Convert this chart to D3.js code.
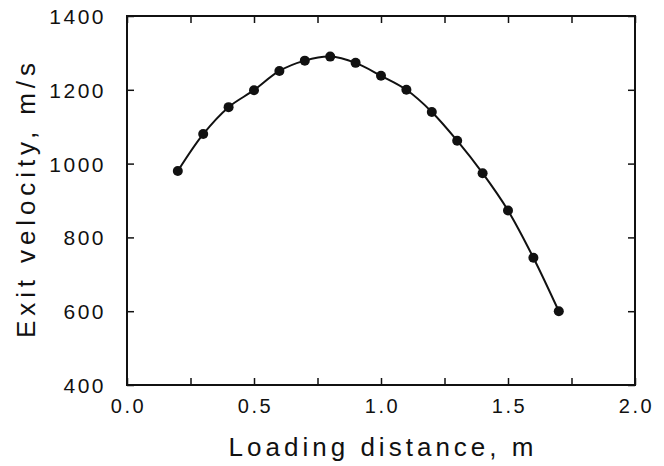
<!DOCTYPE html>
<html>
<head>
<meta charset="utf-8">
<script src="https://cdn.jsdelivr.net/npm/d3@7"></script>
<style>
    body { margin: 0; background: #fff; }
    svg text { font-family: 'Liberation Sans', Arial, sans-serif; fill: #111; }
</style>
</head>
<body>
<div class="chart-exit"></div>
<script>
// loading distance (m) and exit velocity (m/s)
let loadingDistance = [0.2, 0.3, 0.4, 0.5, 0.6, 0.7, 0.8, 0.9, 1.0, 1.1, 1.2, 1.3, 1.4, 1.5, 1.6, 1.7];
let exitVelocity = [980, 1080, 1153, 1199, 1251, 1279, 1290, 1273, 1238, 1200, 1140, 1062, 974, 873, 745, 600];

let xTicks = [0, 0.25, 0.5, 0.75, 1, 1.25, 1.5, 1.75, 2];
let xTickLabels = ['0.0', '0.5', '1.0', '1.5', '2.0'];
let yTicks = [400, 600, 800, 1000, 1200, 1400];
let xTitle = 'Loading distance, m';
let yTitle = 'Exit velocity, m/s';

let width = 664, height = 466;
let margin = {top: 16, right: 29, bottom: 81, left: 127};
let innerW = width - margin.left - margin.right,
    innerH = height - margin.top - margin.bottom;

let svg = d3.select('.chart-exit').append('svg')
    .attr('width', width)
    .attr('height', height);

let chartLayer = svg.append('g')
    .attr('transform', 'translate(' + margin.left + ',' + margin.top + ')');

let x = d3.scaleLinear().domain([0, 2]).range([0, innerW]);
let y = d3.scaleLinear().domain([400, 1400]).range([innerH, 0]);

// inward ticks on all four sides
let tickLen = 7;
function styleAxis(g) {
    g.select('.domain').remove();
    g.selectAll('.tick line').attr('stroke', '#111').attr('stroke-width', 1.5);
}

let xBottom = chartLayer.append('g')
    .attr('transform', 'translate(0,' + innerH + ')')
    .call(d3.axisBottom(x).tickValues(xTicks).tickSizeInner(-tickLen).tickSizeOuter(0)
        .tickPadding(tickLen + 7)
        .tickFormat(function(d) {
            let i = xTickLabels.indexOf(d.toFixed(1));
            return (d * 2) % 1 === 0 && i >= 0 ? xTickLabels[i] : '';
        }));
styleAxis(xBottom);
xBottom.selectAll('text').attr('font-size', 20).attr('letter-spacing', 2.5).attr('dx', 1);

let xTop = chartLayer.append('g')
    .call(d3.axisTop(x).tickValues(xTicks).tickSizeInner(-tickLen).tickSizeOuter(0).tickFormat(''));
styleAxis(xTop);

let yLeft = chartLayer.append('g')
    .call(d3.axisLeft(y).tickValues(yTicks).tickSizeInner(-tickLen).tickSizeOuter(0)
        .tickPadding(tickLen + 14).tickFormat(d3.format('d')));
styleAxis(yLeft);
yLeft.selectAll('text').attr('font-size', 21).attr('letter-spacing', 2.5).attr('dy', '0.36em');

let yRight = chartLayer.append('g')
    .attr('transform', 'translate(' + innerW + ',0)')
    .call(d3.axisRight(y).tickValues(yTicks).tickSizeInner(-tickLen).tickSizeOuter(0).tickFormat(''));
styleAxis(yRight);

// frame
chartLayer.append('rect')
    .attr('width', innerW)
    .attr('height', innerH)
    .attr('fill', 'none')
    .attr('stroke', '#111')
    .attr('stroke-width', 2);

// data
let chartData = loadingDistance.map(function(d, i) { return {x: d, y: exitVelocity[i]}; });

let line = d3.line()
    .x(function(d) { return x(d.x); })
    .y(function(d) { return y(d.y); })
    .curve(d3.curveCatmullRom);

chartLayer.append('path')
    .datum(chartData)
    .attr('fill', 'none')
    .attr('stroke', '#111')
    .attr('stroke-width', 2)
    .attr('d', line);

chartLayer.selectAll('.dot')
    .data(chartData)
    .enter().append('circle')
    .attr('class', 'dot')
    .attr('cx', function(d) { return x(d.x); })
    .attr('cy', function(d) { return y(d.y); })
    .attr('r', 5)
    .attr('fill', '#111');

// axis titles
svg.append('text')
    .attr('x', margin.left + innerW / 2)
    .attr('y', 456)
    .attr('text-anchor', 'middle')
    .attr('font-size', 26)
    .attr('textLength', 305)
    .attr('lengthAdjust', 'spacing')
    .text(xTitle);

svg.append('text')
    .attr('transform', 'translate(35,' + (margin.top + innerH / 2) + ') rotate(-90)')
    .attr('text-anchor', 'middle')
    .attr('font-size', 26)
    .attr('textLength', 275)
    .attr('lengthAdjust', 'spacing')
    .text(yTitle);
</script>
</body>
</html>
